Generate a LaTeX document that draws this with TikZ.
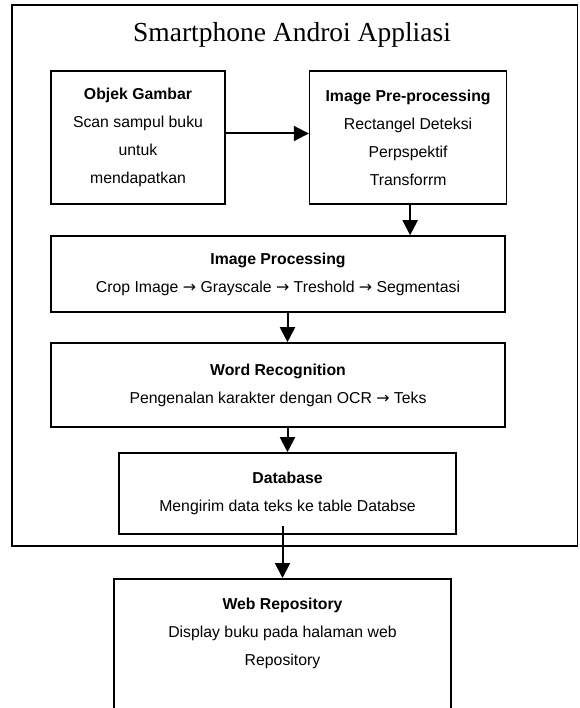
\documentclass[tikz,border=0pt]{standalone}
\usepackage{fontspec}
\setmainfont{Liberation Serif}
\setsansfont{Liberation Sans}
\newfontfamily\panahfont{DejaVu Sans}
\newcommand{\panah}{{\panahfont →}}
\usetikzlibrary{positioning,arrows.meta,calc}

\begin{document}
\begin{tikzpicture}[x=1pt,y=-1pt,
		box/.style={draw,rectangle,line width=1.6pt,inner sep=0pt,align=center,
			font=\sffamily\fontsize{15.8}{28}\selectfont},
		> = {Triangle[length=15pt,width=15pt]},
		flow/.style={->,line width=2pt}
		]
		\clip (0,0) rectangle (579,708);
		\useasboundingbox (0,0) rectangle (579,708);
		% aplikasi android
		\draw[line width=1.6pt] (12,5) rectangle (577.5,546);
		\node[font=\fontsize{27.5}{32}\selectfont] (judul) at (292,35) {Smartphone Androi Appliasi};
		\node[box,minimum width=174,minimum height=133] at (138,137.5) (objek)
			{\textbf{Objek Gambar}\\Scan sampul buku\\untuk\\mendapatkan};
		\node[box,minimum width=197,minimum height=133,right=83 of objek] (prepro)
			{\textbf{Image Pre-processing}\\Rectangel Deteksi\\Perpspektif\\Transforrm};
		\node[box,minimum width=454,minimum height=76] at (278,274) (improc)
			{\textbf{Image Processing}\\Crop Image \panah{} Grayscale \panah{} Treshold \panah{} Segmentasi};
		\node[box,minimum width=454,minimum height=84] at (278,385) (word)
			{\textbf{Word Recognition}\\Pengenalan karakter dengan OCR \panah{} Teks};
		\node[box,minimum width=337,minimum height=81] at (287.5,493.5) (db)
			{\textbf{Database}\\Mengirim data teks ke table Databse};
		% web
		\node[box,minimum width=337,minimum height=150,anchor=north] at (282.5,578) (web) {};
		\node[box,draw=none] at (282.5,633) (webtxt)
			{\textbf{Web Repository}\\Display buku pada halaman web\\Repository};
		% alur
		\draw[flow] ([yshift=4pt]objek.east) -- ([yshift=4pt]prepro.west);
		\draw[flow] ([xshift=2pt]prepro.south) -- ([xshift=2pt]prepro.south |- improc.north);
		\draw[flow] (improc.south -| db) -- (word.north -| db);
		\draw[flow] (word.south -| db) -- (db);
		\draw[flow] ($(db.south -| web)+(0,-9)$) -- (web);
	\end{tikzpicture}
\end{document}
